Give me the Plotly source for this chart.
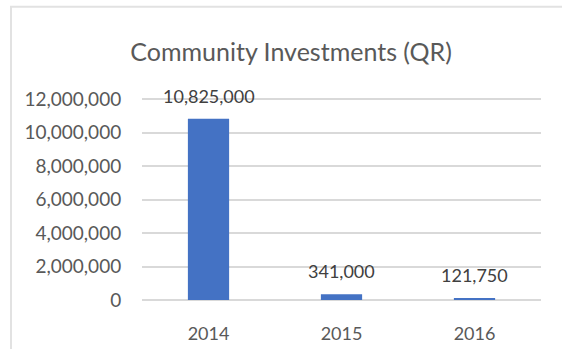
import plotly.graph_objects as go

# Community investment totals by year (Qatari riyals)
years = ["2014", "2015", "2016"]
investments = [10825000, 341000, 121750]
value_labels = ["10,825,000", "341,000", "121,750"]

tick_values = [0, 2000000, 4000000, 6000000, 8000000, 10000000, 12000000]
tick_labels = ["0", "2,000,000", "4,000,000", "6,000,000", "8,000,000", "10,000,000", "12,000,000"]

FONT = "Lato, Calibri, Carlito, sans-serif"
GREY = "#595959"
DARK = "#404040"

fig = go.Figure(
    go.Bar(
        x=years,
        y=investments,
        marker=dict(color="#4472C4", line=dict(width=0)),
        hoverinfo="x+y",
    )
)

# value labels placed just above each bar (category index positions)
for i, (val, txt) in enumerate(zip(investments, value_labels)):
    fig.add_annotation(
        x=i, y=val, xref="x", yref="y", text=txt, showarrow=False,
        yanchor="middle", yshift=23,
        font=dict(family=FONT, size=18, color=DARK),
    )

# thin frame around the chart area
fig.add_shape(
    type="rect", xref="paper", yref="paper",
    x0=-0.3283, x1=1.3, y0=-0.6, y1=1.445,
    line=dict(color="#e2e2e2", width=2), fillcolor="rgba(0,0,0,0)",
    layer="below",
)

fig.update_layout(
    width=562, height=349,
    margin=dict(l=142, r=21, t=97, b=49),
    paper_bgcolor="white", plot_bgcolor="white",
    bargap=0.69,
    showlegend=False,
    title=dict(
        text="Community Investments (QR)",
        x=0.518, xref="container", xanchor="center",
        y=1 - 52 / 349, yref="container", yanchor="middle",
        font=dict(family=FONT, size=25, color=GREY),
    ),
    font=dict(family=FONT, color=GREY),
)

fig.update_xaxes(
    type="category", range=[-0.5, len(years) - 0.5], automargin=False,
    showgrid=False, showline=False, zeroline=False,
    ticks="outside", ticklen=17, tickcolor="rgba(0,0,0,0)",
    tickfont=dict(family=FONT, size=18, color=GREY),
)
fig.update_yaxes(
    range=[0, 12120000], automargin=False,
    tickvals=tick_values, ticktext=tick_labels,
    showgrid=True, gridcolor="#d9d9d9", gridwidth=1.5,
    zeroline=True, zerolinecolor="#d9d9d9", zerolinewidth=1.5,
    showline=False, ticks="outside", ticklen=16, tickcolor="rgba(0,0,0,0)",
    tickfont=dict(family=FONT, size=19, color=GREY),
)

fig.write_html("out.html")
